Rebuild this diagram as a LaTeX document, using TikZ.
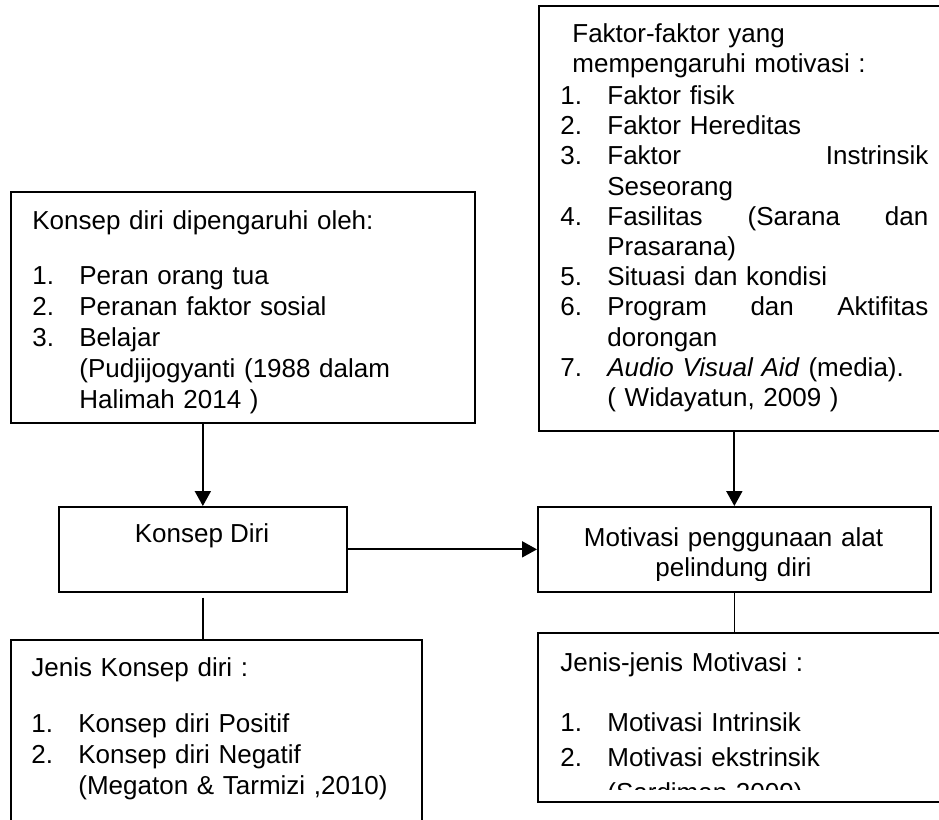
\documentclass[tikz,border=0pt]{standalone}
\usepackage{fontspec}
\setmainfont{Liberation Sans}
\usepackage{tikz}
\usetikzlibrary{positioning, arrows.meta}
\newcommand{\nomor}[1]{\makebox[23.5pt][l]{#1}}
\newcommand{\rata}[1]{\makebox[160.5pt][s]{#1}}

\begin{document}
\begin{tikzpicture}[x=0.5pt, y=-0.5pt,
    kotak/.style={draw, line width=0.85pt, inner sep=0pt, anchor=north west},
    teks/.style={anchor=base west, inner sep=0pt, align=left},
    panah/.style={line width=1pt, -{Triangle[length=7.5pt, width=8pt]}},
    garis/.style={line width=0.75pt}]
  \clip (0,0) rectangle (939,820);
  \node[kotak, minimum width=232pt, minimum height=115.5pt] (pengaruh) at (10,191) {};
  \node[kotak, minimum width=211pt, minimum height=212.5pt] (faktor) at (538,5) {};
  \node[kotak, minimum width=144pt, minimum height=42.5pt] (konsep) at (58,506) {};
  \node[kotak, minimum width=196.5pt, minimum height=42.5pt] (motivasi) at (537,506) {};
  \node[kotak, minimum width=205.5pt, minimum height=100.5pt] (jeniskonsep) at (10,639) {};
  \node[kotak, minimum width=211.5pt, minimum height=84.5pt] (jenismotivasi) at (537,632) {};

  \node[teks, text width=215pt, font=\fontsize{13}{15.5}\selectfont] (tpengaruh) at (32,229)
    {Konsep diri dipengaruhi oleh:\\[12pt]
     \nomor{1.}Peran orang tua\\
     \nomor{2.}Peranan faktor sosial\\
     \nomor{3.}Belajar\\
     \nomor{}(Pudjijogyanti (1988 dalam\\
     \nomor{}Halimah 2014 )};
  \node[teks, text width=185pt, font=\fontsize{13}{15.1}\selectfont] (tfaktor) at (560,42)
    {\hspace*{6pt}Faktor-faktor yang\\
     \hspace*{6pt}mempengaruhi motivasi :\\[1pt]
     \nomor{1.}Faktor fisik\\
     \nomor{2.}Faktor Hereditas\\
     \nomor{3.}\rata{Faktor\hfill Instrinsik}\\
     \nomor{}Seseorang\\
     \nomor{4.}\rata{Fasilitas\hfill (Sarana\hfill dan}\\
     \nomor{}Prasarana)\\
     \nomor{5.}Situasi dan kondisi\\
     \nomor{6.}\rata{Program\hfill dan\hfill Aktifitas}\\
     \nomor{}dorongan\\
     \nomor{7.}\textit{Audio Visual Aid} (media).\\
     \nomor{}( Widayatun, 2009 )};
  \node[anchor=base, inner sep=0pt, font=\fontsize{13}{15}\selectfont] (tkonsep) at (202,542) {Konsep Diri};
  \begin{scope}
    \clip (537,506) rectangle (930,580);
    \node[anchor=base, inner sep=0pt, text width=190pt, align=center, font=\fontsize{13}{15}\selectfont] (tmotivasi) at (733.5,546)
      {Motivasi penggunaan alat\\ pelindung diri};
  \end{scope}
  \node[teks, text width=200pt, font=\fontsize{13}{15.5}\selectfont] (tjeniskonsep) at (31,676)
    {Jenis Konsep diri :\\[12.5pt]
     \nomor{1.}Konsep diri Positif\\
     \nomor{2.}Konsep diri Negatif\\
     \nomor{}(Megaton \& Tarmizi ,2010)};
  \begin{scope}
    \clip (537,632) rectangle (939,789);
    \node[teks, text width=185pt, font=\fontsize{13}{17.5}\selectfont] (tjenismotivasi) at (560,671)
      {Jenis-jenis Motivasi :\\[12.5pt]
       \nomor{1.}Motivasi Intrinsik\\
       \nomor{2.}Motivasi ekstrinsik\\
       \nomor{}(Sardiman 2009)};
  \end{scope}

  \draw[panah] (pengaruh.south -| konsep.north) -- (konsep.north);
  \draw[panah] (faktor.south -| motivasi.north) -- (motivasi.north);
  \draw[panah] (konsep.east) -- (motivasi.west);
  \draw[garis, shorten <=2.5pt] (konsep.south) -- (konsep.south |- jeniskonsep.north);
  \draw[garis] (motivasi.south) -- (motivasi.south |- jenismotivasi.north);
\end{tikzpicture}
\end{document}
